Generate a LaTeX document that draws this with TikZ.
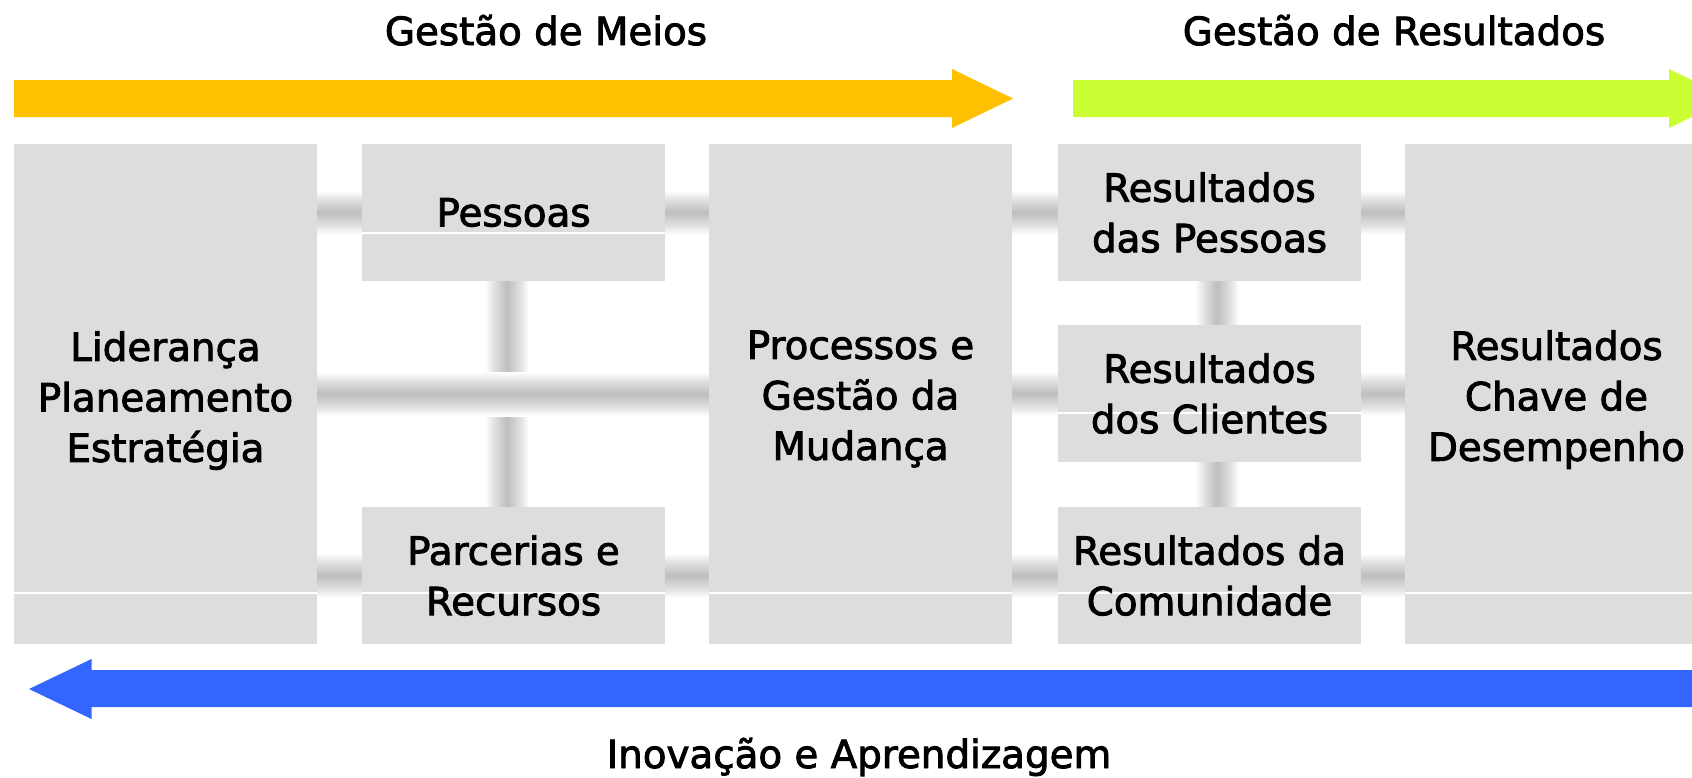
\documentclass[tikz,border=0pt]{standalone}
\usepackage{fontspec}
\setmainfont{DejaVu Sans}
\newfontfamily\boxfont{DejaVu Sans}
\newcommand\heavytext{\special{pdf:literal direct 2 Tr 0.9 w}}
\usetikzlibrary{calc}
\definecolor{boxgray}{RGB}{221,221,221}
\definecolor{arrY}{RGB}{255,192,0}
\definecolor{arrG}{RGB}{204,255,51}
\definecolor{arrB}{RGB}{51,102,255}
\definecolor{cg}{RGB}{190,190,190}
\definecolor{cgl}{RGB}{225,225,225}
\pgfdeclareverticalshading{hconn}{100bp}{color(0bp)=(white); color(25bp)=(white); color(35bp)=(cgl); color(50bp)=(cg); color(65bp)=(cgl); color(75bp)=(white); color(100bp)=(white)}
\pgfdeclarehorizontalshading{vconn}{100bp}{color(0bp)=(white); color(25bp)=(white); color(35bp)=(cgl); color(50bp)=(cg); color(65bp)=(cgl); color(75bp)=(white); color(100bp)=(white)}
\pgfdeclarelayer{bg}
\pgfsetlayers{bg,main}
\begin{document}
\begin{tikzpicture}[x=1pt,y=-1pt,
  box/.style={fill=boxgray, inner sep=0pt, minimum width=303pt},
  tall/.style={box, minimum height=500pt},
  cell/.style={box, minimum height=137pt},
  txt/.style={inner sep=0pt, align=center, font=\boxfont\fontsize{38.8}{50.5}\selectfont\heavytext},
  title/.style={inner sep=0pt, anchor=base, font=\boxfont\fontsize{38.8}{50.5}\selectfont\heavytext},
  hc/.style={shading=hconn},
  vc/.style={shading=vconn},
  seam/.style={draw=white, line width=1.3pt}]
\useasboundingbox (0,0) rectangle (1692,777);
\clip (0,0) rectangle (1692,777);

% arrows
\fill[arrY] (14,80) -- (952,80) -- (952,69) -- (1013,98.5) -- (952,128) -- (952,117) -- (14,117) -- cycle;
\fill[arrG] (1073,80) -- (1669,80) -- (1669,69) -- (1730,98.5) -- (1669,128) -- (1669,117) -- (1073,117) -- cycle;
\fill[arrB] (1700,670) -- (91.5,670) -- (91.5,659) -- (29,689) -- (91.5,719) -- (91.5,707) -- (1700,707) -- cycle;

% titles
\node[title] (tMeios) at (546,45) {Gestão de Meios};
\node[title] (tRes) at (1394,45) {Gestão de Resultados};
\node[title] (tInov) at (859,768) {Inovação e Aprendizagem};

% boxes
\node[tall] (lid) at (165.5,394) {};
\node[cell] (pes) at (513.5,212.5) {};
\node[cell] (par) at (513.5,575.5) {};
\node[tall] (proc) at (860.5,394) {};
\node[cell] (rpe) at (1209.5,212.5) {};
\node[cell] (rcl) at (1209.5,393.5) {};
\node[cell] (rco) at (1209.5,575.5) {};
\node[tall] (rch) at (1556.5,394) {};

% connectors
\begin{pgfonlayer}{bg}
\shade[hc] ($(lid.east |- pes.west)+(0,-22)$) rectangle ($(pes.west)+(0,22)$);
\shade[hc] ($(pes.east)+(0,-22)$) rectangle ($(proc.west |- pes.east)+(0,22)$);
\shade[hc] ($(proc.east |- rpe.west)+(0,-22)$) rectangle ($(rpe.west)+(0,22)$);
\shade[hc] ($(rpe.east)+(0,-22)$) rectangle ($(rch.west |- rpe.east)+(0,22)$);
\shade[hc] ($(lid.east |- par.west)+(0,-22)$) rectangle ($(par.west)+(0,22)$);
\shade[hc] ($(par.east)+(0,-22)$) rectangle ($(proc.west |- par.east)+(0,22)$);
\shade[hc] ($(proc.east |- rco.west)+(0,-22)$) rectangle ($(rco.west)+(0,22)$);
\shade[hc] ($(rco.east)+(0,-22)$) rectangle ($(rch.west |- rco.east)+(0,22)$);
\shade[hc] ($(proc.east |- rcl.west)+(0,-22)$) rectangle ($(rcl.west)+(0,22)$);
\shade[hc] ($(rcl.east)+(0,-22)$) rectangle ($(rch.west |- rcl.east)+(0,22)$);
\shade[vc] ($(pes.south)+(-28.5,0)$) rectangle ($(par.north)+(15.5,0)$);
\shade[vc] ($(rpe.south)+(-14.5,0)$) rectangle ($(rcl.north)+(29.5,0)$);
\shade[vc] ($(rcl.south)+(-14.5,0)$) rectangle ($(rco.north)+(29.5,0)$);
\shade[hc] ($(lid.east)+(0,-22)$) rectangle ($(proc.west)+(0,22)$);
\end{pgfonlayer}

% seams
\draw[seam] (pes.west |- 0,233) -- (pes.east |- 0,233);
\draw[seam] (rcl.west |- 0,413) -- (rcl.east |- 0,413);
\foreach \n in {lid,par,proc,rco,rch}
  \draw[seam] (\n.west |- 0,593) -- (\n.east |- 0,593);

% texts
\node[txt] (lidT) at (165.5,400.6) {Liderança\\Planeamento\\Estratégia};
\node[txt] (pesT) at (pes) {Pessoas};
\node[txt] (parT) at (par) {Parcerias e\\Recursos};
\node[txt] (procT) at (860.5,399) {Processos e\\Gestão da\\Mudança};
\node[txt] (rpeT) at (rpe) {Resultados\\das Pessoas};
\node[txt] (rclT) at (rcl) {Resultados\\dos Clientes};
\node[txt] (rcoT) at (rco) {Resultados da\\Comunidade};
\node[txt] (rchT) at (1556.5,399.6) {Resultados\\Chave de\hspace*{0.5em}\\Desempenho};
\end{tikzpicture}
\end{document}
